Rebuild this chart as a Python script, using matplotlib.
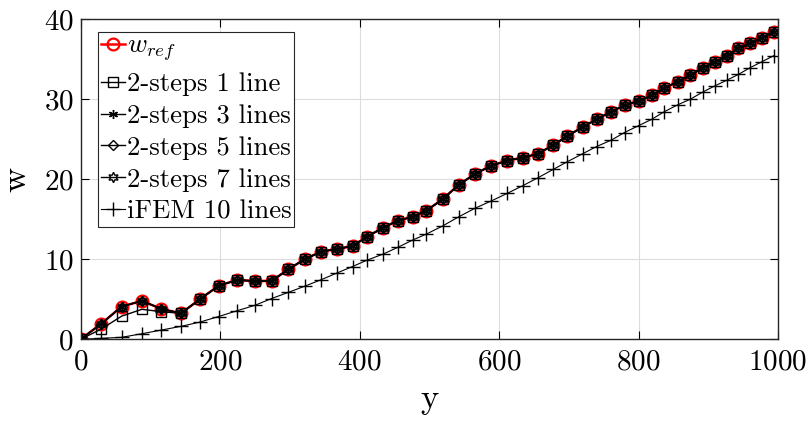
import numpy as np
import matplotlib
matplotlib.use('Agg')
import matplotlib.pyplot as plt

# positions along y and deflection w
y_pos = [0, 29, 59, 88, 116, 144, 171, 198, 224, 250, 274, 298, 322, 345, 368,
         390, 411, 434, 455, 476, 496, 519, 542, 566, 589, 612, 634, 656, 678,
         698, 720, 740, 761, 780, 800, 819, 837, 856, 874, 892, 910, 927, 943,
         960, 977, 994]

w_ref = [0, 1.9, 4.1, 4.8, 3.8, 3.25, 5.0, 6.7, 7.4, 7.3, 7.3, 8.75, 10.05,
         10.95, 11.3, 11.65, 12.85, 13.95, 14.85, 15.3, 16.1, 17.5, 19.3, 20.7,
         21.7, 22.35, 22.7, 23.2, 24.3, 25.4, 26.55, 27.5, 28.45, 29.25, 29.8,
         30.5, 31.4, 32.2, 33.0, 33.95, 34.7, 35.45, 36.4, 37.0, 37.7, 38.45]

w_1line = [0, 1.25, 2.9, 3.75, 3.45] + w_ref[5:]
w_3lines = list(w_ref)
w_5lines = list(w_ref)
w_7lines = list(w_ref)

w_ifem = [0, 0.12, 0.25, 0.7, 1.16, 1.62, 2.15, 2.85, 3.56, 4.25, 5.1, 5.87,
          6.66, 7.45, 8.3, 9.1, 9.9, 10.66, 11.5, 12.4, 13.16, 14.16, 15.3,
          16.4, 17.3, 18.25, 19.2, 20.2, 21.25, 22.2, 23.2, 24.1, 24.9, 25.85,
          26.7, 27.5, 28.45, 29.3, 30.0, 30.9, 31.7, 32.4, 33.1, 33.95, 34.7,
          35.45]

labels = [r'$w_{ref}$', '2-steps 1 line', '2-steps 3 lines', '2-steps 5 lines',
          '2-steps 7 lines', 'iFEM 10 lines']

plt.rcParams['font.family'] = 'cmr10'
plt.rcParams['mathtext.fontset'] = 'cm'
plt.rcParams['axes.formatter.use_mathtext'] = True

fig = plt.figure(figsize=(8.11, 4.25), dpi=100)
ax = fig.add_axes([0.0993, 0.2016, 0.86, 0.753])

ax.plot(y_pos, w_ref, '-o', color='red', lw=1.8, ms=8.5, mfc='none', mew=1.6,
        label=labels[0])
ax.plot(y_pos, w_1line, '-s', color='k', lw=1.0, ms=6.5, mfc='none', mew=1.0,
        label=labels[1])
ax.plot(y_pos, w_3lines, '-', marker=(6, 2, 0), color='k', lw=1.0, ms=6.5,
        mew=1.0, label=labels[2])
ax.plot(y_pos, w_5lines, '-D', color='k', lw=1.0, ms=5.5, mfc='none', mew=1.0,
        label=labels[3])
ax.plot(y_pos, w_7lines, '-', marker=(6, 1, 0), color='k', lw=1.0, ms=7.5,
        mfc='none', mew=1.0, label=labels[4])
ax.plot(y_pos, w_ifem, '-+', color='k', lw=0.8, ms=10, mew=1.0,
        label=labels[5])

ax.set_xlim(0, 1000)
ax.set_ylim(0, 40)
ax.set_xticks([0, 200, 400, 600, 800, 1000])
ax.set_yticks([0, 10, 20, 30, 40])
ax.tick_params(direction='in', top=True, right=True, labelsize=21, length=6,
               width=0.8)
ax.tick_params(axis='x', pad=7)
ax.tick_params(axis='y', pad=5)
ax.grid(True, color='#dcdcdc', lw=0.8)
ax.set_axisbelow(True)
for s in ax.spines.values():
    s.set_linewidth(1.0)
    s.set_color('#262626')

ax.set_xlabel('y', fontsize=25, labelpad=6)
ax.set_ylabel('w', fontsize=25, labelpad=8)

leg = ax.legend(loc='upper left', bbox_to_anchor=(0.025, 0.961), fontsize=19.3,
                fancybox=False, framealpha=1, edgecolor='#262626',
                handlelength=0.9, handletextpad=0.05, borderpad=0.12,
                labelspacing=0.3, borderaxespad=0)
leg.get_frame().set_linewidth(0.8)

fig.savefig('out.png', dpi=100)
